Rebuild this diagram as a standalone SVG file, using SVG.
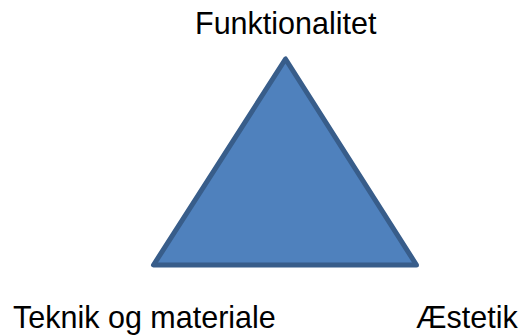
<svg xmlns="http://www.w3.org/2000/svg" width="523" height="336" viewBox="0 0 523 336">
<style>
.lbl{font-family:"Liberation Sans",Arial,sans-serif;font-size:30.5px;fill:#000}
.tri{fill:#4F81BD;stroke:#385D8A;stroke-width:5;stroke-linejoin:round}
</style>
<rect width="523" height="336" fill="#fff"/>
<g id="triangle"><polygon class="tri" points="285.5,59 153.5,265 416.5,265"/></g>
<g id="funktionalitet"><text class="lbl" x="195" y="34">Funktionalitet</text></g>
<g id="teknik"><text class="lbl" x="13" y="328">Teknik og materiale</text></g>
<g id="aestetik"><text class="lbl" x="416" y="328">Æstetik</text></g>
<g id="connectors"/>
</svg>
